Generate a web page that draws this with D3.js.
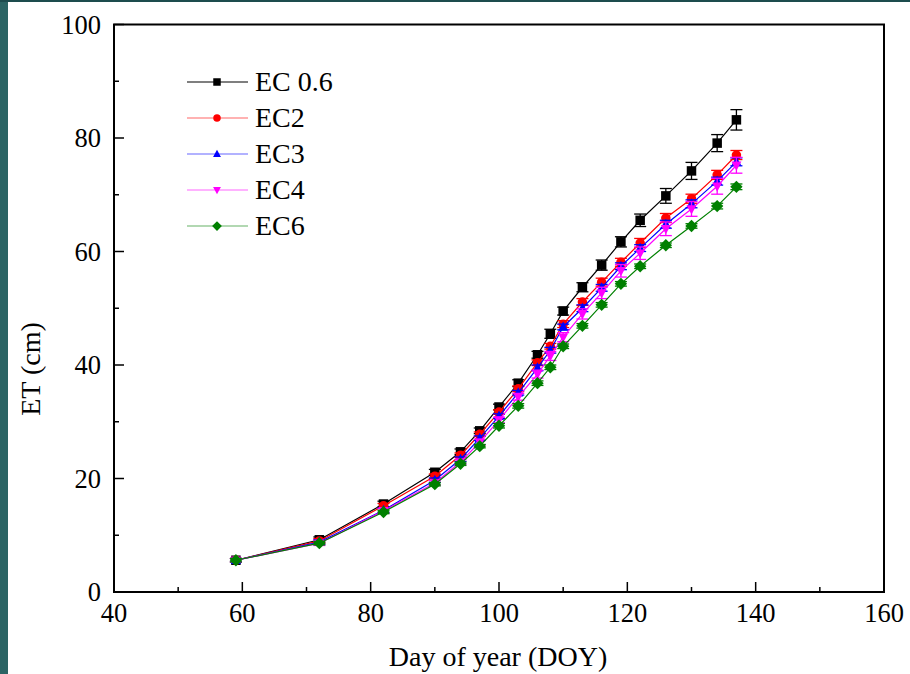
<!DOCTYPE html>
<html><head><meta charset="utf-8">
<script src="https://cdn.jsdelivr.net/npm/d3@7"></script>
<style>
html,body{margin:0;padding:0;background:#fff;}
svg{display:block;}
text{font-family:"Liberation Serif","Times New Roman",serif;fill:#000;}
</style></head>
<body>
<svg id="chart" width="910" height="674"></svg>
<script>
const doy = [59,72,82,90,94,97,100,103,106,108,110,113,116,119,122,126,130,134,137];
const seriesNames = ["EC 0.6","EC2","EC3","EC4","EC6"];
const seriesColors = ["#000000","#ff0000","#0000ff","#ff00ff","#008000"];
const ec06 = [5.6,9.2,15.5,21.1,24.7,28.4,32.6,36.8,41.8,45.5,49.5,53.7,57.6,61.7,65.5,69.8,74.2,79.1,83.2];
const ec2  = [5.6,9.0,15.2,20.4,24.1,27.8,31.7,35.8,40.4,43.3,47.2,51.1,54.6,58.1,61.5,65.9,69.3,73.5,77.0];
const ec3  = [5.6,8.8,14.4,19.7,23.4,27.1,31.0,35.1,39.5,42.6,46.7,50.0,53.6,57.4,60.6,64.8,68.4,72.4,75.8];
const ec4  = [5.6,8.6,14.3,19.2,22.9,26.4,30.3,34.4,38.4,41.6,44.9,49.0,52.7,56.6,59.7,64.0,67.5,71.5,75.2];
const ec6  = [5.6,8.6,14.1,19.0,22.6,25.7,29.3,32.8,36.8,39.6,43.3,46.9,50.6,54.3,57.4,61.1,64.5,68.0,71.4];
const err06 = [0.3,0.5,0.5,0.5,0.5,0.5,0.5,0.6,0.6,0.8,0.7,0.8,0.9,0.9,1.1,1.3,1.5,1.5,1.8];
const err2  = [0.3,0.4,0.4,0.4,0.4,0.4,0.4,0.5,0.5,0.5,0.6,0.6,0.7,0.7,0.8,0.8,0.8,0.8,0.8];
const err3  = [0.3,0.4,0.4,0.4,0.4,0.4,0.4,0.4,0.5,0.5,0.5,0.6,0.6,0.6,0.6,0.7,0.7,0.7,0.7];
const err4  = [0.3,0.4,0.4,0.4,0.4,0.5,0.5,0.6,0.7,0.8,0.8,0.9,1.0,1.1,1.1,1.2,1.3,1.4,1.4];
const err6  = [0.3,0.3,0.3,0.3,0.3,0.3,0.4,0.4,0.4,0.4,0.4,0.4,0.4,0.4,0.4,0.4,0.4,0.5,0.5];
const xTicks = [40,60,80,100,120,140,160];
const yTicks = [0,20,40,60,80,100];
const xTitle = "Day of year (DOY)";
const yTitle = "ET (cm)";

const values = [ec06,ec2,ec3,ec4,ec6];
const errs = [err06,err2,err3,err4,err6];
const symbols = ["square","circle","up","down","diamond"];

const svg = d3.select("#chart");
svg.append("rect").attr("x",0).attr("y",0).attr("width",910).attr("height",674).attr("fill","#fff");
svg.append("rect").attr("x",0).attr("y",0).attr("width",8).attr("height",674).attr("fill","#2b6464");
svg.append("rect").attr("x",0).attr("y",0).attr("width",910).attr("height",2).attr("fill","#1d4c4e");

const L=114,R=884,T=24.5,B=592;
const x = d3.scaleLinear().domain([40,160]).range([L,R]);
const y = d3.scaleLinear().domain([0,100]).range([B,T]);

const g = svg.append("g");
const xMinor = d3.range(50,160,20);
const yMinor = d3.range(10,100,20);
g.selectAll(".xm").data(xMinor).enter().append("line")
 .attr("x1",d=>x(d)).attr("x2",d=>x(d)).attr("y1",B).attr("y2",B-5).attr("stroke","#000").attr("stroke-width",1.5);
g.selectAll(".xM").data(xTicks).enter().append("line")
 .attr("x1",d=>x(d)).attr("x2",d=>x(d)).attr("y1",B).attr("y2",B-10).attr("stroke","#000").attr("stroke-width",1.5);
g.selectAll(".ym").data(yMinor).enter().append("line")
 .attr("y1",d=>y(d)).attr("y2",d=>y(d)).attr("x1",L).attr("x2",L+5).attr("stroke","#000").attr("stroke-width",1.5);
g.selectAll(".yM").data(yTicks).enter().append("line")
 .attr("y1",d=>y(d)).attr("y2",d=>y(d)).attr("x1",L).attr("x2",L+10).attr("stroke","#000").attr("stroke-width",1.5);

g.selectAll(".xl").data(xTicks).enter().append("text")
 .attr("x",d=>x(d)).attr("y",B+30).attr("text-anchor","middle").attr("font-size",26.5).text(d=>d);
g.selectAll(".yl").data(yTicks).enter().append("text")
 .attr("x",L-13).attr("y",d=>y(d)+9).attr("text-anchor","end").attr("font-size",26.5).text(d=>d);

svg.append("text").attr("x",498).attr("y",666).attr("text-anchor","middle").attr("font-size",28).text(xTitle);
svg.append("text").attr("transform",`translate(40,369) rotate(-90)`).attr("text-anchor","middle").attr("font-size",28).text(yTitle);

function markerPath(i,s){
  const h=s/2;
  switch(symbols[i]){
    case "square": return `M${-h},${-h}H${h}V${h}H${-h}Z`;
    case "circle": return d3.symbol().type(d3.symbolCircle).size(Math.PI*h*h)();
    case "up": return `M0,${-h*1.15}L${h*1.05},${h*0.8}L${-h*1.05},${h*0.8}Z`;
    case "down": return `M0,${h*1.15}L${h*1.05},${-h*0.8}L${-h*1.05},${-h*0.8}Z`;
    case "diamond": return `M0,${-h*1.3}L${h*1.3},0L0,${h*1.3}L${-h*1.3},0Z`;
  }
}
const line = d3.line().x(d=>x(d[0])).y(d=>y(d[1]));

values.forEach((vals,i)=>{
  const c = seriesColors[i];
  const gs = svg.append("g");
  const pts = doy.map((d,k)=>[d,vals[k],errs[i][k]]);
  gs.append("path").attr("d",line(pts)).attr("fill","none").attr("stroke",c).attr("stroke-width",1.2);
  pts.forEach(p=>{
    const px=x(p[0]), y1=y(p[1]+p[2]), y2=y(p[1]-p[2]);
    gs.append("line").attr("x1",px).attr("x2",px).attr("y1",y1).attr("y2",y2).attr("stroke",c).attr("stroke-width",1.3);
    gs.append("line").attr("x1",px-6).attr("x2",px+6).attr("y1",y1).attr("y2",y1).attr("stroke",c).attr("stroke-width",1.3);
    gs.append("line").attr("x1",px-6).attr("x2",px+6).attr("y1",y2).attr("y2",y2).attr("stroke",c).attr("stroke-width",1.3);
    gs.append("path").attr("d",markerPath(i,9.5))
      .attr("transform",`translate(${px},${y(p[1])})`).attr("fill",c);
  });
});

const legY=[82,118,154,190,226];
seriesNames.forEach((n,i)=>{
  const c=seriesColors[i];
  svg.append("line").attr("x1",187).attr("x2",248).attr("y1",legY[i]).attr("y2",legY[i]).attr("stroke",c).attr("stroke-width",1.2).attr("stroke-opacity",i===0?1:0.6);
  svg.append("path").attr("d",markerPath(i,7.5)).attr("transform",`translate(217,${legY[i]})`).attr("fill",c);
  svg.append("text").attr("x",255).attr("y",legY[i]+9).attr("font-size",28).text(n);
});

svg.append("rect").attr("x",L).attr("y",T).attr("width",R-L).attr("height",B-T).attr("fill","none").attr("stroke","#000").attr("stroke-width",2);
</script>
</body></html>
